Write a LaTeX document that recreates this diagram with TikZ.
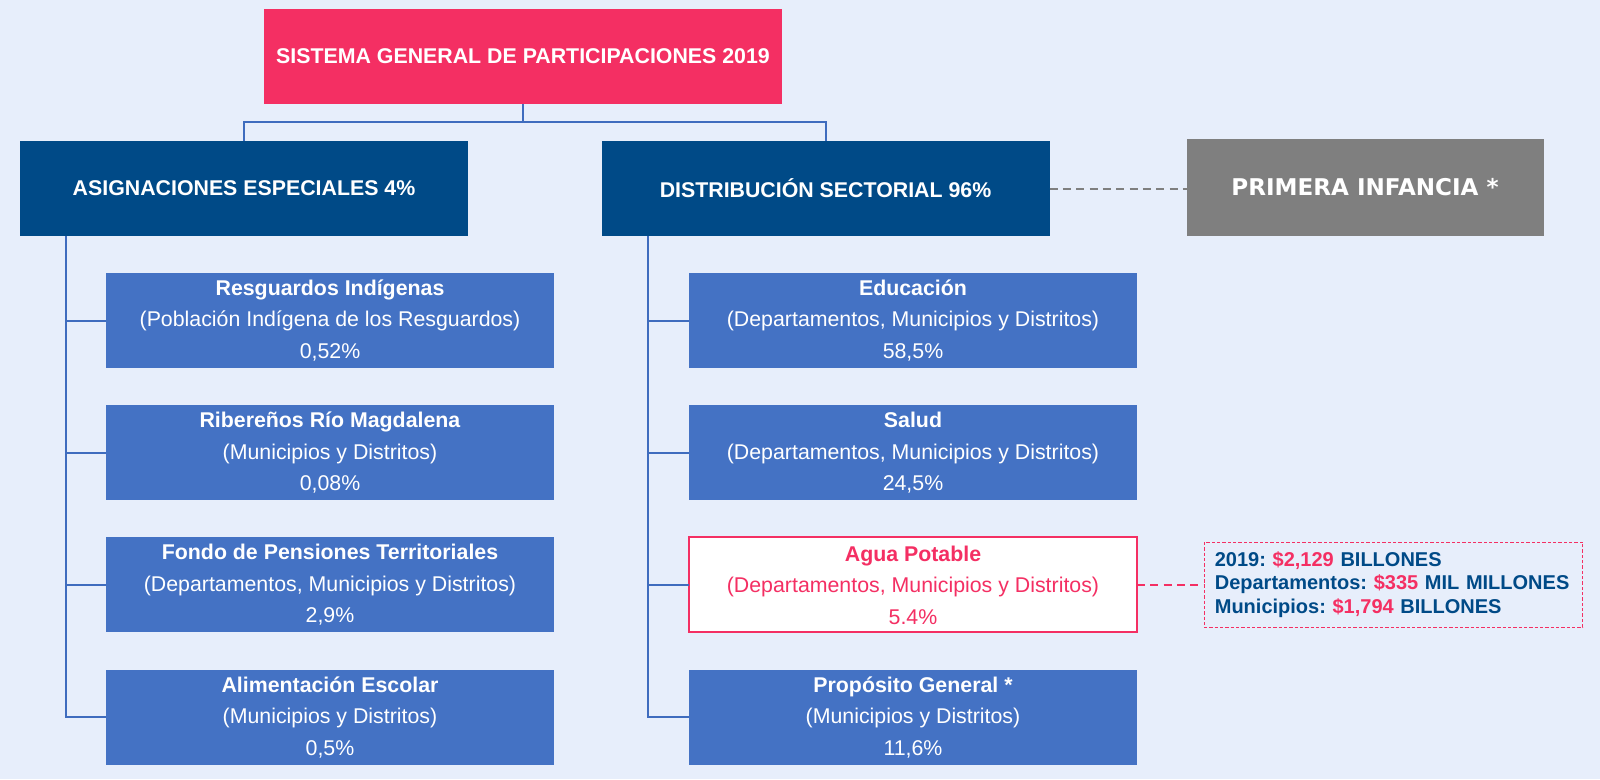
\documentclass[tikz,border=0pt]{standalone}
\usepackage{fontspec}
\setmainfont{Liberation Sans}
\newfontfamily\grisfont{DejaVu Sans}
\usepackage{xcolor}
\usepackage{tikz}
\usetikzlibrary{positioning}
\frenchspacing

\definecolor{rosa}{HTML}{F42F63}
\definecolor{azulosc}{HTML}{004A87}
\definecolor{azulmed}{HTML}{4472C4}
\definecolor{gris}{HTML}{7F7F7F}
\definecolor{fondo}{HTML}{E7EEFB}
\definecolor{linea}{HTML}{3F6CBE}

\begin{document}
\begin{tikzpicture}[x=0.75pt,y=-0.75pt,node distance=27.9pt,every node/.style={outer sep=0pt},
                    top node/.style={rectangle,fill=rosa,text=white,inner sep=0pt,minimum width=388.5pt,minimum height=71.25pt,font=\bfseries\fontsize{16}{19}\selectfont},
                    head node/.style={rectangle,fill=azulosc,text=white,inner sep=0pt,minimum width=336pt,minimum height=71.25pt,font=\bfseries\fontsize{16}{19}\selectfont},
                    gris node/.style={rectangle,fill=gris,text=white,inner sep=0pt,minimum width=267.75pt,minimum height=72.75pt,font=\grisfont\bfseries\fontsize{17.3}{20}\selectfont},
                    sub node/.style={rectangle,fill=azulmed,text=white,inner sep=0pt,align=center,minimum width=336pt,minimum height=71.25pt,font=\fontsize{16}{23.6}\selectfont},
                    agua node/.style={sub node,fill=white,draw=rosa,line width=1.5pt,text=rosa},
                    info node/.style={rectangle,draw=rosa,line width=0.75pt,dash pattern=on 2.5pt off 1.5pt,text=azulosc,align=left,text width=268pt,inner xsep=8.1pt,inner ysep=0pt,minimum height=63.75pt,font=\bfseries\fontsize{15}{17.8}\selectfont},
                    tree/.style={draw=linea,line width=1.5pt}]

  \useasboundingbox[fill=fondo] (0,0) rectangle (1600,779);

  \node[top node] (sgp) at (523,56.5) {SISTEMA GENERAL DE PARTICIPACIONES 2019};
  \node[head node] (asig) at (244,188.5) {ASIGNACIONES ESPECIALES 4\%};
  \node[head node] (dist) at (825.5,188.5) {DISTRIBUCIÓN SECTORIAL 96\%};
  \node[gris node] (pinf) at (1365,187.5) {PRIMERA INFANCIA *};

  \node[sub node] (resg) at (330,320.5) {\textbf{Resguardos Indígenas}\\(Población Indígena de los Resguardos)\\0,52\%};
  \node[sub node] (ribe) [below=of resg] {\textbf{Ribereños Río Magdalena}\\(Municipios y Distritos)\\0,08\%};
  \node[sub node] (fond) [below=of ribe] {\textbf{Fondo de Pensiones Territoriales}\\(Departamentos, Municipios y Distritos)\\2,9\%};
  \node[sub node] (alim) [below=of fond] {\textbf{Alimentación Escolar}\\(Municipios y Distritos)\\0,5\%};

  \node[sub node] (educ) at (913,320.5) {\textbf{Educación}\\(Departamentos, Municipios y Distritos)\\58,5\%};
  \node[sub node] (salu) [below=of educ] {\textbf{Salud}\\(Departamentos, Municipios y Distritos)\\24,5\%};
  \node[agua node] (agua) [below=of salu] {\textbf{Agua Potable}\\(Departamentos, Municipios y Distritos)\\5.4\%};
  \node[sub node] (prop) [below=of agua] {\textbf{Propósito General *}\\(Municipios y Distritos)\\11,6\%};

  \node[info node] (datos) at (1393.5,584.6) {2019: \textcolor{rosa}{\$2,129} BILLONES\\Departamentos: \textcolor{rosa}{\$335} MIL MILLONES\\Municipios: \textcolor{rosa}{\$1,794} BILLONES};

  \draw[tree] (sgp.south) -- ++(0,18.3) -| (asig.north);
  \draw[tree] (sgp.south) -- ++(0,18.3) -| (dist.north);

  \coordinate (ea) at (66,236);
  \coordinate (ed) at (648,236);
  \draw[tree] (ea) |- (resg.west);
  \draw[tree] (ea) |- (ribe.west);
  \draw[tree] (ea) |- (fond.west);
  \draw[tree] (ea) |- (alim.west);
  \draw[tree] (ed) |- (educ.west);
  \draw[tree] (ed) |- (salu.west);
  \draw[tree] (ed) |- (agua.west);
  \draw[tree] (ed) |- (prop.west);

  \draw[gris,line width=1.5pt,dash pattern=on 6pt off 4pt] (dist.east) -- (dist.east -| pinf.west);
  \draw[rosa,line width=1.2pt,dash pattern=on 6pt off 4pt] (agua.east) -- (agua.east -| datos.west);

\end{tikzpicture}
\end{document}
